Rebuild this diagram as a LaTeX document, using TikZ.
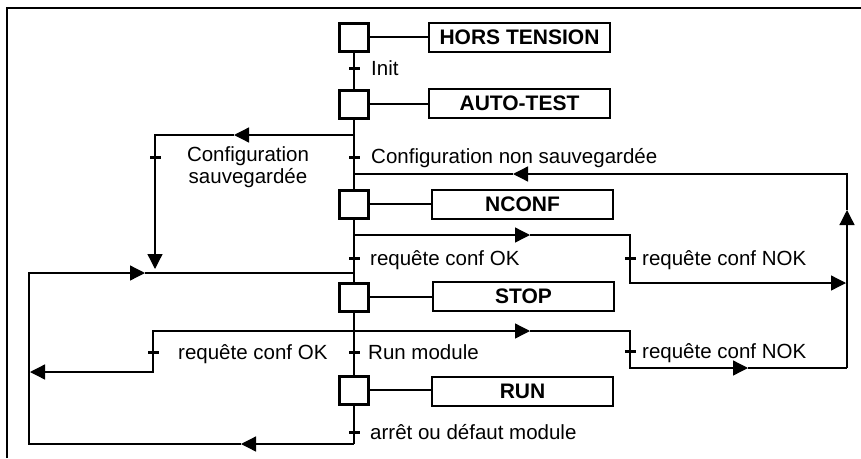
\documentclass[tikz,border=0pt]{standalone}
\usepackage{fontspec}
\setmainfont{Liberation Sans}
\usetikzlibrary{arrows.meta}
\begin{document}
\begin{tikzpicture}[x=1pt,y=-1pt,
  flow/.style={line width=1.3pt},
  tip/.style={-{Triangle[length=15pt,width=15pt]}},
  etape/.style={draw,line width=3pt,minimum width=29pt,minimum height=28pt,inner sep=0pt},
  action/.style={draw,line width=2pt,minimum width=181pt,minimum height=29pt,inner sep=0pt,
    font=\fontsize{21}{24}\selectfont\bfseries},
  recept/.style={fill=black,minimum width=11pt,minimum height=3pt,inner sep=0pt},
  lbl/.style={anchor=west,inner sep=0pt,text height=14.7pt,text depth=0pt,
    font=\fontsize{20.5}{22}\selectfont}]
\useasboundingbox (0,0) rectangle (861,458);

% frame
\draw[line width=2pt] (7,458) -- (7,8) -- (861,8);

% steps
\node[etape] (s1) at (354,37) {};
\node[etape] (s2) at (354,104) {};
\node[etape] (s3) at (354,204) {};
\node[etape] (s4) at (354,297) {};
\node[etape] (s5) at (354,390) {};

% actions
\node[action] (a1) at (519.5,37.5) {HORS TENSION};
\node[action] (a2) at (519.5,103.5) {AUTO-TEST};
\node[action] (a3) at (522.5,204) {NCONF};
\node[action] (a4) at (523.5,296.5) {STOP};
\node[action] (a5) at (522.5,391) {RUN};

\foreach \i in {1,...,5} {\draw[flow] (s\i.east) -- (s\i.east -| a\i.west);}

% junction and corner points
\coordinate (j2) at (354,135);
\coordinate (c2) at (155,135);
\coordinate (m2) at (234,135);
\coordinate (e2) at (155,269);
\coordinate (jr) at (354,174);
\coordinate (mr) at (513,174);
\coordinate (rt) at (847,174);
\coordinate (mu) at (847,210);
\coordinate (rb) at (847,368);
\coordinate (j3) at (354,235);
\coordinate (m3) at (530,235);
\coordinate (c3) at (630,235);
\coordinate (d3) at (630,283);
\coordinate (e3) at (846,283);
\coordinate (j4) at (354,273);
\coordinate (m4) at (145,273);
\coordinate (k1) at (29,273);
\coordinate (k2) at (29,444);
\coordinate (m5) at (241,444);
\coordinate (j5) at (354,444);
\coordinate (j6) at (354,331);
\coordinate (m6) at (530,331);
\coordinate (c6) at (630,331);
\coordinate (d6) at (630,368);
\coordinate (m7) at (748,368);
\coordinate (l6) at (153,331);
\coordinate (l7) at (153,372);
\coordinate (e7) at (30,372);

% main line
\draw[flow] (s1.south) -- (s2.north);
\draw[flow] (s2.south) -- (s3.north);
\draw[flow] (s3.south) -- (s4.north);
\draw[flow] (s4.south) -- (s5.north);
\draw[flow] (s5.south) -- (j5);

% saved configuration branch
\draw[flow,tip] (j2) -- (m2);
\draw[flow,tip] (m2) -- (c2) -- (e2);

% return to NCONF
\draw[flow,tip] (rb) -- (mu);
\draw[flow,tip] (mu) -- (rt) -- (mr);
\draw[flow] (mr) -- (jr);

% NCONF branches
\draw[flow,tip] (j3) -- (m3);
\draw[flow,tip] (m3) -- (c3) -- (d3) -- (e3);

% loop back to STOP
\draw[flow,tip] (j5) -- (m5);
\draw[flow,tip] (m5) -- (k2) -- (k1) -- (m4);
\draw[flow] (m4) -- (j4);

% STOP branches
\draw[flow,tip] (j6) -- (m6);
\draw[flow,tip] (m6) -- (c6) -- (d6) -- (m7);
\draw[flow] (m7) -- (rb);
\draw[flow,tip] (j6) -- (l6) -- (l7) -- (e7);

% transitions
\node[recept] (t1) at (354,68) {};
\node[recept] (t2) at (354,157) {};
\node[recept] (t3) at (155,157) {};
\node[recept] (t4) at (354,258) {};
\node[recept] (t5) at (630,258) {};
\node[recept] (t6) at (354,352) {};
\node[recept] (t7) at (153,352) {};
\node[recept] (t8) at (630,351) {};
\node[recept] (t9) at (354,432) {};

\node[lbl] (r1) at (371,68) {Init};
\node[lbl] (r2) at (371,156) {Configuration non sauvegardée};
\node[inner sep=0pt,align=center,font=\fontsize{20.5}{22}\selectfont] (r3) at (248,167)
  {Configuration\\sauvegardée};
\node[lbl] (r4) at (370,258) {requête conf OK};
\node[lbl] (r5) at (642,258) {requête conf NOK};
\node[lbl] (r6) at (368,352) {Run module};
\node[lbl] (r7) at (178,352) {requête conf OK};
\node[lbl] (r8) at (642,351) {requête conf NOK};
\node[lbl] (r9) at (370,432) {arrêt ou défaut module};
\end{tikzpicture}
\end{document}
